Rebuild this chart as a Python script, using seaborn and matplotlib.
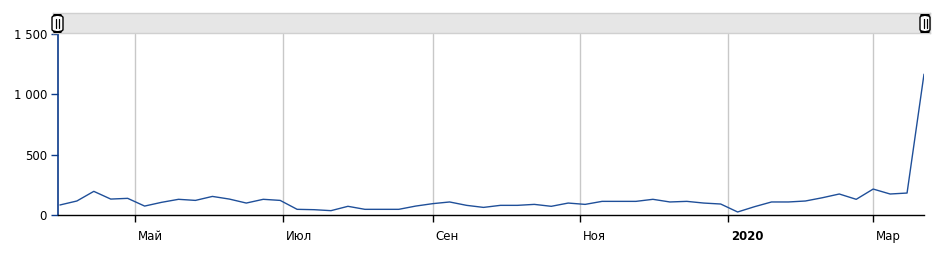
import matplotlib
matplotlib.use("Agg")
import matplotlib.pyplot as plt
import matplotlib.dates as mdates
import matplotlib.transforms as mtransforms
from matplotlib.patches import FancyBboxPatch
from matplotlib.ticker import FuncFormatter
import pandas as pd
import seaborn as sns

# ---- data ----
start_date = "2019-03-31"
values = [83, 116, 196, 132, 138, 74, 105, 130, 121, 154, 132, 99, 130, 121,
          47, 44, 36, 72, 47, 47, 47, 74, 94, 108, 80, 63, 80, 80, 88, 72,
          99, 88, 113, 113, 113, 130, 108, 113, 99, 91, 25, 69, 108, 108,
          116, 143, 174, 130, 215, 174, 182, 1167]
x_tick_dates = ["2019-05-01", "2019-07-01", "2019-09-01", "2019-11-01",
                "2020-01-01", "2020-03-01"]
x_tick_labels = ["Май", "Июл", "Сен", "Ноя", "2020", "Мар"]
y_ticks = [0, 500, 1000, 1500]

dates = pd.date_range(start_date, periods=len(values), freq="7D")
df = pd.DataFrame({"date": dates, "value": values})

sns.set_style("white")
plt.rcParams["font.family"] = ["DejaVu Sans"]

W, H = 938, 257
fig = plt.figure(figsize=(W / 100, H / 100), dpi=100)
ax = fig.add_axes([58 / W, 1 - 215 / H, (924 - 58) / W, (215 - 34) / H])

sns.lineplot(data=df, x="date", y="value", ax=ax, color="#1f4f99", linewidth=1)

ax.set_xlim(dates[0] - pd.Timedelta(hours=19), dates[-1])
ax.set_ylim(0, 1500)
ax.set_xlabel("")
ax.set_ylabel("")

ax.set_yticks(y_ticks)
ax.yaxis.set_major_formatter(FuncFormatter(lambda v, p: f"{int(v):,}".replace(",", " ")))
xt = [mdates.date2num(pd.Timestamp(d)) for d in x_tick_dates]
ax.set_xticks(xt)
ax.set_xticklabels(x_tick_labels)

ax.grid(False)
for x in xt:
    ax.axvline(x, color="#c8c8c8", linewidth=1, zorder=0)

for s in ("top", "right"):
    ax.spines[s].set_visible(False)
ax.spines["left"].set_color("#0b3a8a")
ax.spines["left"].set_linewidth(1.2)
ax.spines["bottom"].set_color("black")
ax.spines["bottom"].set_linewidth(1)

ax.tick_params(axis="y", length=5, width=1, color="#0b3a8a", labelsize=8.5,
               pad=3, left=True, labelcolor="black")
ax.tick_params(axis="x", length=5, width=1, color="black", labelsize=8.5,
               pad=6, bottom=True, labelcolor="black")

offset = mtransforms.ScaledTranslation(3 / 100, 0, fig.dpi_scale_trans)
for lbl in ax.get_xticklabels():
    lbl.set_ha("left")
    lbl.set_transform(lbl.get_transform() + offset)
    if lbl.get_text() == "2020":
        lbl.set_fontweight("bold")

# ---- scrollbar band at top ----
band = fig.add_axes([53 / W, 1 - 33 / H, (930 - 53) / W, 20 / H])
band.set_facecolor("#e6e6e6")
band.set_xticks([])
band.set_yticks([])
for s in band.spines.values():
    s.set_color("#d0d0d0")
    s.set_linewidth(1)

# handles in figure pixel coords
for (x0, x1) in [(52, 63), (920, 930)]:
    p = FancyBboxPatch((x0 / W, 1 - 32 / H), (x1 - x0) / W, 17 / H,
                       boxstyle="round,pad=0,rounding_size=0.01",
                       transform=fig.transFigure, facecolor="white",
                       edgecolor="black", linewidth=1, zorder=10)
    fig.patches.append(p)
    cx = (x0 + x1) / 2
    for dx in (-1.5, 1.5):
        fig.add_artist(plt.Line2D([(cx + dx) / W, (cx + dx) / W],
                                  [1 - 28 / H, 1 - 19 / H],
                                  transform=fig.transFigure, color="black",
                                  linewidth=0.9, zorder=11))

fig.savefig("out.png", dpi=100)
